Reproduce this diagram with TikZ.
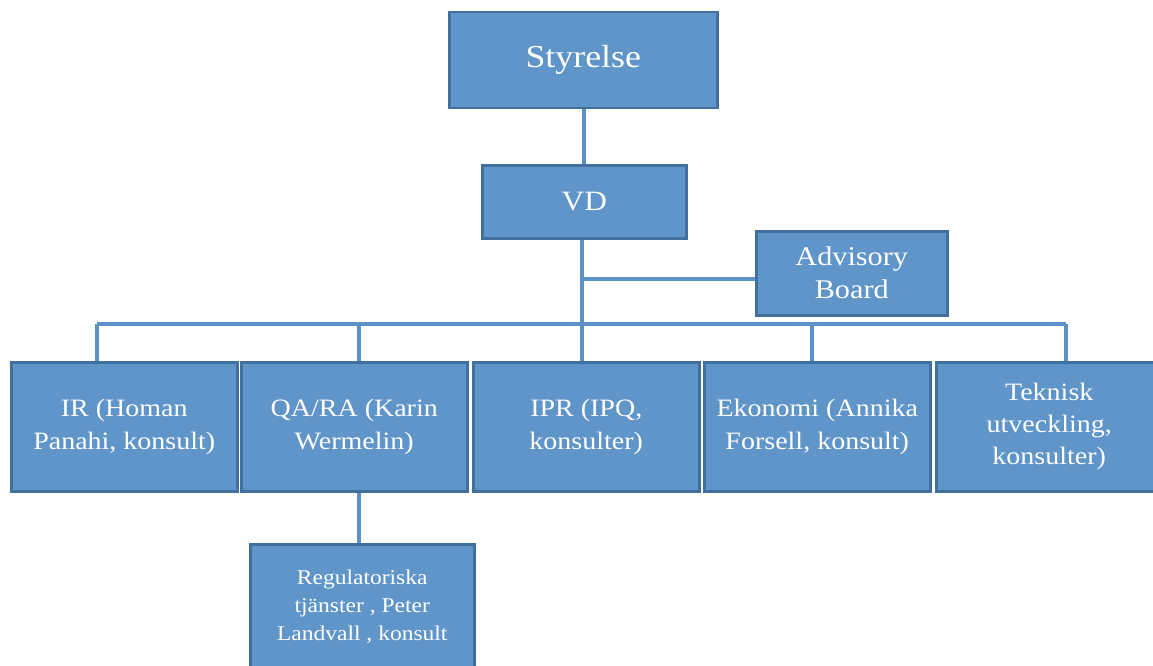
\documentclass[tikz,border=0pt]{standalone}
\usepackage{fontspec}
\setmainfont[FakeStretch=1.12]{Liberation Serif}
\usetikzlibrary{positioning}
\definecolor{boxblue}{HTML}{5F95C9}
\definecolor{edgeblue}{HTML}{41709F}
\definecolor{lineblue}{HTML}{5D92C6}

\begin{document}
\begin{tikzpicture}[x=1pt,y=-1pt,
            orgbox/.style={draw=edgeblue,line width=2.5pt,fill=boxblue,text=white,
                anchor=north west,align=center,inner sep=2pt},
            dept/.style={orgbox,minimum width=226pt,minimum height=129pt,font=\fontsize{25}{33}\selectfont},
            link/.style={draw=lineblue,line width=4pt}]
            \useasboundingbox (0,0) rectangle (1153,666);
            \fill[white] (0,0) rectangle (1153,666);
            % top levels
            \node[orgbox,minimum width=268pt,minimum height=96pt,font=\fontsize{32}{38}\selectfont] (styr) at (448,11) {Styrelse};
            \node[orgbox,minimum width=204pt,minimum height=73pt,font=\fontsize{28}{34}\selectfont] (vd) at (481,164) {VD};
            \node[orgbox,minimum width=191pt,minimum height=84pt,font=\fontsize{27}{33}\selectfont] (adv) at (755,230) {Advisory\\Board};
            % departments
            \node[dept] (ir) at (10,361) {IR (Homan\\Panahi, konsult)};
            \node[dept] (qara) at (240,361) {QA/RA (Karin\\Wermelin)};
            \node[dept] (ipr) at (472,361) {IPR (IPQ,\\konsulter)};
            \node[dept] (eko) at (703,361) {Ekonomi (Annika\\Forsell, konsult)};
            \node[dept,font=\fontsize{25}{32}\selectfont] (tek) at (935,361) {Teknisk\\utveckling,\\konsulter)};
            \node[orgbox,minimum width=224pt,minimum height=126pt,font=\fontsize{21}{28}\selectfont] (reg) at (249,543) {Regulatoriska\\tjänster , Peter\\Landvall , konsult};

            % junctions on the bus
            \coordinate (bus) at (582,324);
            \coordinate (advj) at (582,279);
            \coordinate (irj) at (97,324);
            \coordinate (qaj) at (359,324);
            \coordinate (ekoj) at (812,324);
            \coordinate (tekj) at (1066,324);
            \path[link] (styr.south -| vd.north) -- (vd.north)
                (vd.south -| bus) -- (bus)
                (advj) -- (adv.west |- advj)
                (irj) -- (tekj)
                (irj) -- (irj |- ir.north)
                (qaj) -- (qaj |- qara.north)
                (bus) -- (bus |- ipr.north)
                (ekoj) -- (ekoj |- eko.north)
                (tekj) -- (tekj |- tek.north)
                (qaj |- qara.south) -- (qaj |- reg.north);
\end{tikzpicture}
\end{document}
